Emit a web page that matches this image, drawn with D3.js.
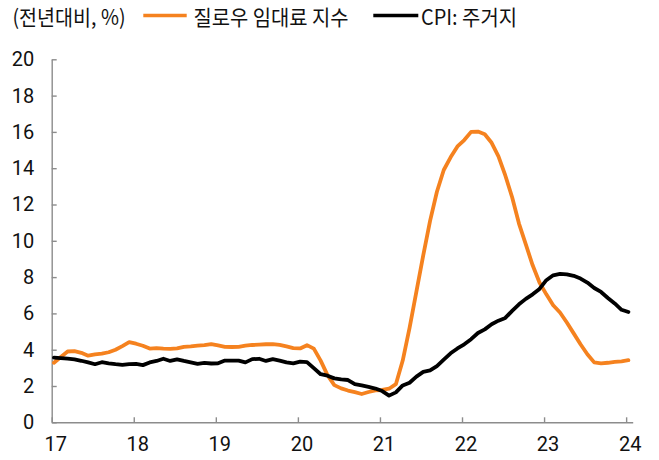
<!DOCTYPE html>
<html>
<head>
<meta charset="utf-8">
<script src="https://cdn.jsdelivr.net/npm/d3@7"></script>
<style>
    body { margin: 0; background: #fff; }
    .axis text { font-family: Roboto, "Noto Sans CJK KR", sans-serif; font-size: 20px; fill: #111; }
    .axis path, .axis line { stroke: #8c8c8c; stroke-width: 1.4; }
    .legend text { font-family: "Noto Sans CJK KR", sans-serif; font-size: 21px; fill: #111; }
</style>
</head>
<body>
<div class="chart"></div>
<script>
var svgWidth = 659
var svgHeight = 460

var startYear = 17
var xTicks = [17, 18, 19, 20, 21, 22, 23, 24]
var yTicks = [0, 2, 4, 6, 8, 10, 12, 14, 16, 18, 20]

var seriesNames = ["질로우 임대료 지수", "CPI: 주거지"]
var unitLabel = "(전년대비, %)"

// monthly, Jan 2017 - Jan 2024
var zillowRent = [
    3.28, 3.6, 3.9, 3.92, 3.83, 3.67, 3.74, 3.78, 3.86, 4.0, 4.2, 4.42,
    4.33, 4.22, 4.06, 4.09, 4.06, 4.04, 4.07, 4.16, 4.18, 4.22, 4.25, 4.31,
    4.24, 4.16, 4.15, 4.16, 4.22, 4.26, 4.28, 4.3, 4.31, 4.26, 4.18, 4.09,
    4.07, 4.25, 4.06, 3.4, 2.6, 2.05, 1.87, 1.75, 1.66, 1.56, 1.67, 1.76,
    1.78, 1.85, 2.1, 3.4, 5.2, 7.2, 9.2, 11.1, 12.7, 13.9, 14.6, 15.2,
    15.55, 16.0, 16.02, 15.87, 15.4, 14.65, 13.6, 12.4, 10.95, 9.8, 8.65, 7.7,
    7.05, 6.45, 6.05, 5.5, 4.9, 4.3, 3.75, 3.3, 3.25, 3.28, 3.33, 3.36,
    3.42
]

var cpiShelter = [
    3.56, 3.54, 3.51, 3.47, 3.39, 3.3, 3.2, 3.31, 3.25, 3.2, 3.16, 3.21,
    3.22, 3.15, 3.3, 3.38, 3.5, 3.38, 3.47, 3.38, 3.3, 3.22, 3.27, 3.24,
    3.25, 3.4, 3.4, 3.4, 3.3, 3.48, 3.5, 3.38, 3.48, 3.4, 3.3, 3.25,
    3.34, 3.32, 2.98, 2.65, 2.57, 2.42, 2.36, 2.33, 2.1, 2.03, 1.95, 1.86,
    1.72, 1.47, 1.65, 2.03, 2.18, 2.52, 2.78, 2.86, 3.1, 3.45, 3.8, 4.07,
    4.3, 4.58, 4.92, 5.12, 5.4, 5.6, 5.75, 6.14, 6.5, 6.8, 7.05, 7.35,
    7.83, 8.1, 8.18, 8.15, 8.07, 7.92, 7.7, 7.4, 7.18, 6.85, 6.55, 6.2,
    6.08
]

var seriesColors = ["#f5821f", "#000000"]

var svg = d3.select(".chart")
    .append("svg")
    .attr("width", svgWidth)
    .attr("height", svgHeight);

var xScale = d3.scaleLinear()
    .domain([17, 24.08])
    .range([51.7, 632.7]);

var yScale = d3.scaleLinear()
    .domain([0, 20])
    .range([422.3, 59.3]);

var bottomAxis = d3.axisBottom(xScale)
    .tickValues(xTicks)
    .tickSizeInner(-5)
    .tickSizeOuter(0)
    .tickPadding(14.4)
    .tickFormat(d3.format("d"));

var leftAxis = d3.axisLeft(yScale)
    .tickValues(yTicks)
    .tickSizeInner(-5)
    .tickSizeOuter(0)
    .tickPadding(17.5);

var xAxis = svg.append("g")
    .attr("class", "axis")
    .attr("transform", `translate(0, ${yScale(0)})`)
    .call(bottomAxis);

xAxis.selectAll("text").attr("x", 3.5);

var yAxis = svg.append("g")
    .attr("class", "axis")
    .attr("transform", `translate(${xScale(17)}, 0)`)
    .call(leftAxis);

// month index -> fractional year
function monthX(i) {
    return xScale(startYear + (i + 0.33) / 12);
}

var line = d3.line()
    .x((d, i) => monthX(i))
    .y(d => yScale(d))
    .curve(d3.curveLinear);

[zillowRent, cpiShelter].forEach(function(series, k) {
    svg.append("path")
        .datum(series)
        .attr("fill", "none")
        .attr("stroke", seriesColors[k])
        .attr("stroke-width", 3.8)
        .attr("stroke-linejoin", "round")
        .attr("stroke-linecap", "round")
        .attr("d", line);
});

var legend = svg.append("g").attr("class", "legend");

legend.append("text")
    .attr("x", 12.5)
    .attr("y", 25)
    .attr("textLength", 113)
    .attr("lengthAdjust", "spacingAndGlyphs")
    .text(unitLabel);

var legendItems = [
    {x1: 143.3, x2: 186.7, tx: 193.5, tw: 155},
    {x1: 373.3, x2: 418.3, tx: 421, tw: 96}
];

legendItems.forEach(function(item, k) {
    legend.append("line")
        .attr("x1", item.x1)
        .attr("x2", item.x2)
        .attr("y1", 15.5)
        .attr("y2", 15.5)
        .attr("stroke", seriesColors[k])
        .attr("stroke-width", 3.6);

    legend.append("text")
        .attr("x", item.tx)
        .attr("y", 25)
        .attr("textLength", item.tw)
        .attr("lengthAdjust", "spacingAndGlyphs")
        .text(seriesNames[k]);
});
</script>
</body>
</html>
